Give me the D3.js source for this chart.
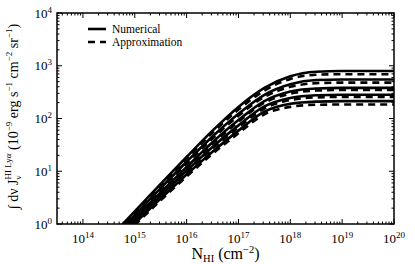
<!DOCTYPE html>
<html>
<head>
<meta charset="utf-8">
<script src="https://cdn.jsdelivr.net/npm/d3@7"></script>
<style>
  body { margin: 0; background: #fff; }
  text { font-family: "Liberation Serif", "DejaVu Serif", serif; fill: #000; }
</style>
</head>
<body>
<svg id="chart" width="415" height="264"></svg>
<script>
// log10 of column density, shared by every curve
const logN = [14.5, 15, 15.5, 16, 16.5, 17, 17.5, 18, 18.5, 19, 19.5, 20]

// log10 of the integrated intensity (1e-9 erg s-1 cm-2 sr-1)
const numerical = [
  [-0.28, 0.24, 0.76, 1.27, 1.77, 2.22, 2.58, 2.80, 2.885, 2.90, 2.90, 2.90],
  [-0.34, 0.17, 0.68, 1.18, 1.66, 2.09, 2.45, 2.65, 2.73, 2.74, 2.74, 2.74],
  [-0.39, 0.11, 0.60, 1.08, 1.55, 1.97, 2.33, 2.51, 2.57, 2.58, 2.58, 2.58],
  [-0.44, 0.06, 0.54, 1.01, 1.46, 1.87, 2.23, 2.39, 2.44, 2.45, 2.45, 2.45],
  [-0.48, 0.01, 0.48, 0.94, 1.37, 1.77, 2.13, 2.28, 2.32, 2.33, 2.33, 2.33],
]
const approximation = [
  [-0.30, 0.22, 0.73, 1.24, 1.73, 2.17, 2.53, 2.75, 2.83, 2.84, 2.84, 2.84],
  [-0.36, 0.15, 0.65, 1.14, 1.62, 2.05, 2.41, 2.60, 2.67, 2.68, 2.68, 2.68],
  [-0.41, 0.09, 0.58, 1.06, 1.52, 1.94, 2.30, 2.47, 2.53, 2.54, 2.54, 2.54],
  [-0.45, 0.04, 0.52, 0.98, 1.43, 1.83, 2.19, 2.35, 2.40, 2.41, 2.41, 2.41],
  [-0.50, -0.02, 0.45, 0.90, 1.33, 1.72, 2.08, 2.22, 2.26, 2.265, 2.265, 2.265],
]

const xTickExp = [14, 15, 16, 17, 18, 19, 20]
const yTickExp = [0, 1, 2, 3, 4]
const legendItems = [
  { label: 'Numerical', dash: null },
  { label: 'Approximation', dash: '7,5' },
]

const svg = d3.select('#chart')
const m = { left: 57, right: 394, top: 13, bottom: 224 }

const x = d3.scaleLog().domain([Math.pow(10, 13.5), 1e20]).range([m.left, m.right])
const y = d3.scaleLog().domain([1, 1e4]).range([m.bottom, m.top])

svg.append('defs').append('clipPath').attr('id', 'clip')
  .append('rect')
  .attr('x', m.left).attr('y', m.top)
  .attr('width', m.right - m.left).attr('height', m.bottom - m.top)

const line = d3.line()
  .x((d) => x(Math.pow(10, d[0])))
  .y((d) => y(Math.pow(10, d[1])))
  .curve(d3.curveMonotoneX)

const gLines = svg.append('g').attr('clip-path', 'url(#clip)')
const drawSet = (set, dash) => {
  set.forEach((vals) => {
    gLines.append('path')
      .datum(logN.map((n, i) => [n, vals[i]]))
      .attr('d', line)
      .attr('fill', 'none')
      .attr('stroke', '#000')
      .attr('stroke-width', 2.6)
      .attr('stroke-dasharray', dash)
  })
}
drawSet(numerical, null)
drawSet(approximation, '7,5')

// ticks, inward on all four sides
const minor = (scale) => {
  const [a, b] = scale.domain()
  const out = []
  for (let e = Math.floor(Math.log10(a)); e <= Math.ceil(Math.log10(b)); e++) {
    for (let k = 2; k <= 9; k++) {
      const v = k * Math.pow(10, e)
      if (v >= a && v <= b) out.push(v)
    }
  }
  return out
}

const gTicks = svg.append('g').attr('stroke', '#000').attr('stroke-width', 1)
const xMaj = xTickExp.map((e) => Math.pow(10, e))
const yMaj = yTickExp.map((e) => Math.pow(10, e))
const tick = (v, len, horiz) => {
  if (horiz) {
    const px = x(v)
    gTicks.append('line').attr('x1', px).attr('x2', px).attr('y1', m.bottom).attr('y2', m.bottom - len)
    gTicks.append('line').attr('x1', px).attr('x2', px).attr('y1', m.top).attr('y2', m.top + len)
  } else {
    const py = y(v)
    gTicks.append('line').attr('y1', py).attr('y2', py).attr('x1', m.left).attr('x2', m.left + len)
    gTicks.append('line').attr('y1', py).attr('y2', py).attr('x1', m.right).attr('x2', m.right - len)
  }
}
xMaj.forEach((v) => tick(v, 5, true))
minor(x).forEach((v) => tick(v, 2.5, true))
yMaj.forEach((v) => tick(v, 5, false))
minor(y).forEach((v) => tick(v, 2.5, false))

svg.append('rect')
  .attr('x', m.left).attr('y', m.top)
  .attr('width', m.right - m.left).attr('height', m.bottom - m.top)
  .attr('fill', 'none').attr('stroke', '#000').attr('stroke-width', 1.5)

// tick labels as 10^n
const power = (g, e) => {
  g.append('tspan').text('10')
  g.append('tspan').attr('dy', -5).attr('font-size', 9).text(e)
}
xTickExp.forEach((e) => {
  const t = svg.append('text')
    .attr('x', x(Math.pow(10, e))).attr('y', 243)
    .attr('text-anchor', 'middle').attr('font-size', 13)
  power(t, e)
})
yTickExp.forEach((e) => {
  const t = svg.append('text')
    .attr('x', 52).attr('y', y(Math.pow(10, e)) + 4.5)
    .attr('text-anchor', 'end').attr('font-size', 13)
  power(t, e)
})

// x axis title
const xt = svg.append('text')
  .attr('x', (m.left + m.right) / 2).attr('y', 259)
  .attr('text-anchor', 'middle').attr('font-size', 16)
xt.append('tspan').text('N')
xt.append('tspan').attr('font-size', 10.5).attr('dy', 3).text('HI')
xt.append('tspan').attr('dy', -3).text(' (cm')
xt.append('tspan').attr('font-size', 10.5).attr('dy', -6).text('−2')
xt.append('tspan').attr('dy', 6).text(')')

// y axis title
const yt = svg.append('text')
  .attr('transform', `translate(18, ${(m.top + m.bottom) / 2 - 2}) rotate(-90)`)
  .attr('text-anchor', 'middle').attr('font-size', 14)
yt.append('tspan').text('∫ dν J')
yt.append('tspan').attr('font-size', 9).attr('dy', 3).text('ν')
yt.append('tspan').attr('font-size', 9).attr('dy', -10).attr('dx', -4).text('HI Ly')
yt.append('tspan').attr('font-size', 9).attr('font-style', 'italic').text('α')
yt.append('tspan').attr('dy', 7).text(' (10')
yt.append('tspan').attr('font-size', 9).attr('dy', -6).text('−9')
yt.append('tspan').attr('dy', 6).text(' erg s')
yt.append('tspan').attr('font-size', 9).attr('dy', -6).text('−1')
yt.append('tspan').attr('dy', 6).text(' cm')
yt.append('tspan').attr('font-size', 9).attr('dy', -6).text('−2')
yt.append('tspan').attr('dy', 6).text(' sr')
yt.append('tspan').attr('font-size', 9).attr('dy', -6).text('−1')
yt.append('tspan').attr('dy', 6).text(')')

// legend
const gLeg = svg.append('g')
legendItems.forEach((d, i) => {
  const ly = 29 + i * 13
  gLeg.append('line')
    .attr('x1', 88).attr('x2', 106).attr('y1', ly).attr('y2', ly)
    .attr('stroke', '#000').attr('stroke-width', 2.6)
    .attr('stroke-dasharray', d.dash)
  gLeg.append('text')
    .attr('x', 112).attr('y', ly + 4)
    .attr('font-size', 11.5)
    .text(d.label)
})
</script>
</body>
</html>
